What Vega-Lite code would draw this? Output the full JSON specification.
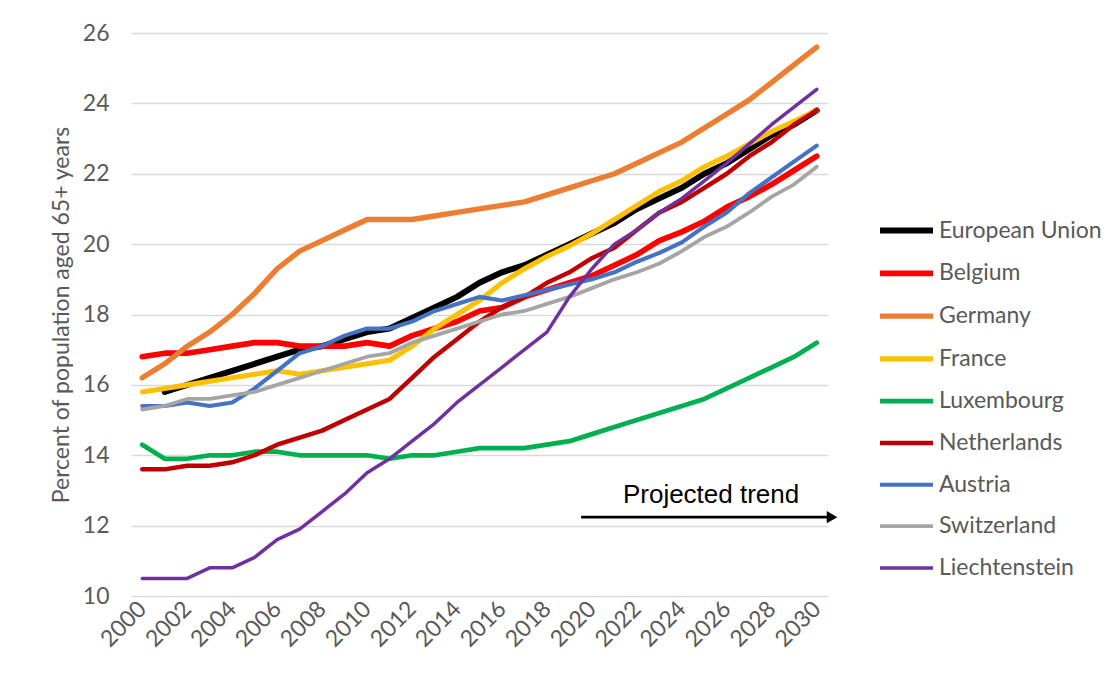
{
  "$schema": "https://vega.github.io/schema/vega-lite/v6.json",
  "width": 697,
  "height": 563,
  "autosize": {"type": "none"},
  "padding": {"left": 131, "top": 33, "right": 285, "bottom": 86},
  "background": "white",
  "config": {"font": "Lato", "view": {"stroke": null}},
  "datasets": {
    "series": [
      {"country":"European Union","year":2001,"pct":15.8},{"country":"European Union","year":2002,"pct":16.0},{"country":"European Union","year":2003,"pct":16.2},{"country":"European Union","year":2004,"pct":16.4},{"country":"European Union","year":2005,"pct":16.6},{"country":"European Union","year":2006,"pct":16.8},{"country":"European Union","year":2007,"pct":17.0},{"country":"European Union","year":2008,"pct":17.1},{"country":"European Union","year":2009,"pct":17.3},{"country":"European Union","year":2010,"pct":17.5},{"country":"European Union","year":2011,"pct":17.6},{"country":"European Union","year":2012,"pct":17.9},{"country":"European Union","year":2013,"pct":18.2},{"country":"European Union","year":2014,"pct":18.5},{"country":"European Union","year":2015,"pct":18.9},{"country":"European Union","year":2016,"pct":19.2},{"country":"European Union","year":2017,"pct":19.4},{"country":"European Union","year":2018,"pct":19.7},{"country":"European Union","year":2019,"pct":20.0},{"country":"European Union","year":2020,"pct":20.3},{"country":"European Union","year":2021,"pct":20.6},{"country":"European Union","year":2022,"pct":21.0},{"country":"European Union","year":2023,"pct":21.3},{"country":"European Union","year":2024,"pct":21.6},{"country":"European Union","year":2025,"pct":22.0},{"country":"European Union","year":2026,"pct":22.3},{"country":"European Union","year":2027,"pct":22.7},{"country":"European Union","year":2028,"pct":23.1},{"country":"European Union","year":2029,"pct":23.4},{"country":"European Union","year":2030,"pct":23.8},
      {"country":"Belgium","year":2000,"pct":16.8},{"country":"Belgium","year":2001,"pct":16.9},{"country":"Belgium","year":2002,"pct":16.9},{"country":"Belgium","year":2003,"pct":17.0},{"country":"Belgium","year":2004,"pct":17.1},{"country":"Belgium","year":2005,"pct":17.2},{"country":"Belgium","year":2006,"pct":17.2},{"country":"Belgium","year":2007,"pct":17.1},{"country":"Belgium","year":2008,"pct":17.1},{"country":"Belgium","year":2009,"pct":17.1},{"country":"Belgium","year":2010,"pct":17.2},{"country":"Belgium","year":2011,"pct":17.1},{"country":"Belgium","year":2012,"pct":17.4},{"country":"Belgium","year":2013,"pct":17.6},{"country":"Belgium","year":2014,"pct":17.8},{"country":"Belgium","year":2015,"pct":18.1},{"country":"Belgium","year":2016,"pct":18.2},{"country":"Belgium","year":2017,"pct":18.5},{"country":"Belgium","year":2018,"pct":18.7},{"country":"Belgium","year":2019,"pct":18.9},{"country":"Belgium","year":2020,"pct":19.1},{"country":"Belgium","year":2021,"pct":19.4},{"country":"Belgium","year":2022,"pct":19.7},{"country":"Belgium","year":2023,"pct":20.1},{"country":"Belgium","year":2024,"pct":20.35},{"country":"Belgium","year":2025,"pct":20.65},{"country":"Belgium","year":2026,"pct":21.05},{"country":"Belgium","year":2027,"pct":21.35},{"country":"Belgium","year":2028,"pct":21.7},{"country":"Belgium","year":2029,"pct":22.1},{"country":"Belgium","year":2030,"pct":22.5},
      {"country":"Germany","year":2000,"pct":16.2},{"country":"Germany","year":2001,"pct":16.6},{"country":"Germany","year":2002,"pct":17.1},{"country":"Germany","year":2003,"pct":17.5},{"country":"Germany","year":2004,"pct":18.0},{"country":"Germany","year":2005,"pct":18.6},{"country":"Germany","year":2006,"pct":19.3},{"country":"Germany","year":2007,"pct":19.8},{"country":"Germany","year":2008,"pct":20.1},{"country":"Germany","year":2009,"pct":20.4},{"country":"Germany","year":2010,"pct":20.7},{"country":"Germany","year":2011,"pct":20.7},{"country":"Germany","year":2012,"pct":20.7},{"country":"Germany","year":2013,"pct":20.8},{"country":"Germany","year":2014,"pct":20.9},{"country":"Germany","year":2015,"pct":21.0},{"country":"Germany","year":2016,"pct":21.1},{"country":"Germany","year":2017,"pct":21.2},{"country":"Germany","year":2018,"pct":21.4},{"country":"Germany","year":2019,"pct":21.6},{"country":"Germany","year":2020,"pct":21.8},{"country":"Germany","year":2021,"pct":22.0},{"country":"Germany","year":2022,"pct":22.3},{"country":"Germany","year":2023,"pct":22.6},{"country":"Germany","year":2024,"pct":22.9},{"country":"Germany","year":2025,"pct":23.3},{"country":"Germany","year":2026,"pct":23.7},{"country":"Germany","year":2027,"pct":24.1},{"country":"Germany","year":2028,"pct":24.6},{"country":"Germany","year":2029,"pct":25.1},{"country":"Germany","year":2030,"pct":25.6},
      {"country":"France","year":2000,"pct":15.8},{"country":"France","year":2001,"pct":15.9},{"country":"France","year":2002,"pct":16.0},{"country":"France","year":2003,"pct":16.1},{"country":"France","year":2004,"pct":16.2},{"country":"France","year":2005,"pct":16.3},{"country":"France","year":2006,"pct":16.4},{"country":"France","year":2007,"pct":16.3},{"country":"France","year":2008,"pct":16.4},{"country":"France","year":2009,"pct":16.5},{"country":"France","year":2010,"pct":16.6},{"country":"France","year":2011,"pct":16.7},{"country":"France","year":2012,"pct":17.1},{"country":"France","year":2013,"pct":17.6},{"country":"France","year":2014,"pct":18.0},{"country":"France","year":2015,"pct":18.4},{"country":"France","year":2016,"pct":18.9},{"country":"France","year":2017,"pct":19.3},{"country":"France","year":2018,"pct":19.65},{"country":"France","year":2019,"pct":19.95},{"country":"France","year":2020,"pct":20.3},{"country":"France","year":2021,"pct":20.7},{"country":"France","year":2022,"pct":21.1},{"country":"France","year":2023,"pct":21.5},{"country":"France","year":2024,"pct":21.8},{"country":"France","year":2025,"pct":22.2},{"country":"France","year":2026,"pct":22.5},{"country":"France","year":2027,"pct":22.85},{"country":"France","year":2028,"pct":23.2},{"country":"France","year":2029,"pct":23.5},{"country":"France","year":2030,"pct":23.8},
      {"country":"Luxembourg","year":2000,"pct":14.3},{"country":"Luxembourg","year":2001,"pct":13.9},{"country":"Luxembourg","year":2002,"pct":13.9},{"country":"Luxembourg","year":2003,"pct":14.0},{"country":"Luxembourg","year":2004,"pct":14.0},{"country":"Luxembourg","year":2005,"pct":14.1},{"country":"Luxembourg","year":2006,"pct":14.1},{"country":"Luxembourg","year":2007,"pct":14.0},{"country":"Luxembourg","year":2008,"pct":14.0},{"country":"Luxembourg","year":2009,"pct":14.0},{"country":"Luxembourg","year":2010,"pct":14.0},{"country":"Luxembourg","year":2011,"pct":13.9},{"country":"Luxembourg","year":2012,"pct":14.0},{"country":"Luxembourg","year":2013,"pct":14.0},{"country":"Luxembourg","year":2014,"pct":14.1},{"country":"Luxembourg","year":2015,"pct":14.2},{"country":"Luxembourg","year":2016,"pct":14.2},{"country":"Luxembourg","year":2017,"pct":14.2},{"country":"Luxembourg","year":2018,"pct":14.3},{"country":"Luxembourg","year":2019,"pct":14.4},{"country":"Luxembourg","year":2020,"pct":14.6},{"country":"Luxembourg","year":2021,"pct":14.8},{"country":"Luxembourg","year":2022,"pct":15.0},{"country":"Luxembourg","year":2023,"pct":15.2},{"country":"Luxembourg","year":2024,"pct":15.4},{"country":"Luxembourg","year":2025,"pct":15.6},{"country":"Luxembourg","year":2026,"pct":15.9},{"country":"Luxembourg","year":2027,"pct":16.2},{"country":"Luxembourg","year":2028,"pct":16.5},{"country":"Luxembourg","year":2029,"pct":16.8},{"country":"Luxembourg","year":2030,"pct":17.2},
      {"country":"Netherlands","year":2000,"pct":13.6},{"country":"Netherlands","year":2001,"pct":13.6},{"country":"Netherlands","year":2002,"pct":13.7},{"country":"Netherlands","year":2003,"pct":13.7},{"country":"Netherlands","year":2004,"pct":13.8},{"country":"Netherlands","year":2005,"pct":14.0},{"country":"Netherlands","year":2006,"pct":14.3},{"country":"Netherlands","year":2007,"pct":14.5},{"country":"Netherlands","year":2008,"pct":14.7},{"country":"Netherlands","year":2009,"pct":15.0},{"country":"Netherlands","year":2010,"pct":15.3},{"country":"Netherlands","year":2011,"pct":15.6},{"country":"Netherlands","year":2012,"pct":16.2},{"country":"Netherlands","year":2013,"pct":16.8},{"country":"Netherlands","year":2014,"pct":17.3},{"country":"Netherlands","year":2015,"pct":17.8},{"country":"Netherlands","year":2016,"pct":18.2},{"country":"Netherlands","year":2017,"pct":18.5},{"country":"Netherlands","year":2018,"pct":18.9},{"country":"Netherlands","year":2019,"pct":19.2},{"country":"Netherlands","year":2020,"pct":19.6},{"country":"Netherlands","year":2021,"pct":19.9},{"country":"Netherlands","year":2022,"pct":20.4},{"country":"Netherlands","year":2023,"pct":20.9},{"country":"Netherlands","year":2024,"pct":21.2},{"country":"Netherlands","year":2025,"pct":21.6},{"country":"Netherlands","year":2026,"pct":22.0},{"country":"Netherlands","year":2027,"pct":22.5},{"country":"Netherlands","year":2028,"pct":22.9},{"country":"Netherlands","year":2029,"pct":23.4},{"country":"Netherlands","year":2030,"pct":23.8},
      {"country":"Austria","year":2000,"pct":15.4},{"country":"Austria","year":2001,"pct":15.4},{"country":"Austria","year":2002,"pct":15.5},{"country":"Austria","year":2003,"pct":15.4},{"country":"Austria","year":2004,"pct":15.5},{"country":"Austria","year":2005,"pct":15.9},{"country":"Austria","year":2006,"pct":16.4},{"country":"Austria","year":2007,"pct":16.9},{"country":"Austria","year":2008,"pct":17.1},{"country":"Austria","year":2009,"pct":17.4},{"country":"Austria","year":2010,"pct":17.6},{"country":"Austria","year":2011,"pct":17.6},{"country":"Austria","year":2012,"pct":17.8},{"country":"Austria","year":2013,"pct":18.1},{"country":"Austria","year":2014,"pct":18.3},{"country":"Austria","year":2015,"pct":18.5},{"country":"Austria","year":2016,"pct":18.4},{"country":"Austria","year":2017,"pct":18.55},{"country":"Austria","year":2018,"pct":18.7},{"country":"Austria","year":2019,"pct":18.85},{"country":"Austria","year":2020,"pct":19.0},{"country":"Austria","year":2021,"pct":19.2},{"country":"Austria","year":2022,"pct":19.5},{"country":"Austria","year":2023,"pct":19.75},{"country":"Austria","year":2024,"pct":20.05},{"country":"Austria","year":2025,"pct":20.5},{"country":"Austria","year":2026,"pct":20.9},{"country":"Austria","year":2027,"pct":21.45},{"country":"Austria","year":2028,"pct":21.9},{"country":"Austria","year":2029,"pct":22.35},{"country":"Austria","year":2030,"pct":22.8},
      {"country":"Switzerland","year":2000,"pct":15.3},{"country":"Switzerland","year":2001,"pct":15.4},{"country":"Switzerland","year":2002,"pct":15.6},{"country":"Switzerland","year":2003,"pct":15.6},{"country":"Switzerland","year":2004,"pct":15.7},{"country":"Switzerland","year":2005,"pct":15.8},{"country":"Switzerland","year":2006,"pct":16.0},{"country":"Switzerland","year":2007,"pct":16.2},{"country":"Switzerland","year":2008,"pct":16.4},{"country":"Switzerland","year":2009,"pct":16.6},{"country":"Switzerland","year":2010,"pct":16.8},{"country":"Switzerland","year":2011,"pct":16.9},{"country":"Switzerland","year":2012,"pct":17.2},{"country":"Switzerland","year":2013,"pct":17.4},{"country":"Switzerland","year":2014,"pct":17.6},{"country":"Switzerland","year":2015,"pct":17.8},{"country":"Switzerland","year":2016,"pct":18.0},{"country":"Switzerland","year":2017,"pct":18.1},{"country":"Switzerland","year":2018,"pct":18.3},{"country":"Switzerland","year":2019,"pct":18.5},{"country":"Switzerland","year":2020,"pct":18.75},{"country":"Switzerland","year":2021,"pct":19.0},{"country":"Switzerland","year":2022,"pct":19.2},{"country":"Switzerland","year":2023,"pct":19.45},{"country":"Switzerland","year":2024,"pct":19.8},{"country":"Switzerland","year":2025,"pct":20.2},{"country":"Switzerland","year":2026,"pct":20.5},{"country":"Switzerland","year":2027,"pct":20.9},{"country":"Switzerland","year":2028,"pct":21.35},{"country":"Switzerland","year":2029,"pct":21.7},{"country":"Switzerland","year":2030,"pct":22.2},
      {"country":"Liechtenstein","year":2000,"pct":10.5},{"country":"Liechtenstein","year":2001,"pct":10.5},{"country":"Liechtenstein","year":2002,"pct":10.5},{"country":"Liechtenstein","year":2003,"pct":10.8},{"country":"Liechtenstein","year":2004,"pct":10.8},{"country":"Liechtenstein","year":2005,"pct":11.1},{"country":"Liechtenstein","year":2006,"pct":11.6},{"country":"Liechtenstein","year":2007,"pct":11.9},{"country":"Liechtenstein","year":2008,"pct":12.4},{"country":"Liechtenstein","year":2009,"pct":12.9},{"country":"Liechtenstein","year":2010,"pct":13.5},{"country":"Liechtenstein","year":2011,"pct":13.9},{"country":"Liechtenstein","year":2012,"pct":14.4},{"country":"Liechtenstein","year":2013,"pct":14.9},{"country":"Liechtenstein","year":2014,"pct":15.5},{"country":"Liechtenstein","year":2015,"pct":16.0},{"country":"Liechtenstein","year":2016,"pct":16.5},{"country":"Liechtenstein","year":2017,"pct":17.0},{"country":"Liechtenstein","year":2018,"pct":17.5},{"country":"Liechtenstein","year":2019,"pct":18.5},{"country":"Liechtenstein","year":2020,"pct":19.3},{"country":"Liechtenstein","year":2021,"pct":20.0},{"country":"Liechtenstein","year":2022,"pct":20.4},{"country":"Liechtenstein","year":2023,"pct":20.9},{"country":"Liechtenstein","year":2024,"pct":21.3},{"country":"Liechtenstein","year":2025,"pct":21.8},{"country":"Liechtenstein","year":2026,"pct":22.3},{"country":"Liechtenstein","year":2027,"pct":22.85},{"country":"Liechtenstein","year":2028,"pct":23.4},{"country":"Liechtenstein","year":2029,"pct":23.9},{"country":"Liechtenstein","year":2030,"pct":24.4}
    ],
    "note": [
      {"label": "Projected trend", "start": 2019.52, "end": 2030.68, "level": 12.24, "tx": 2025.3, "ty": 12.64}
    ]
  },
  "layer": [
    {
      "data": {"name": "series"},
      "mark": {"type": "line", "strokeJoin": "round", "strokeCap": "round"},
      "encoding": {
        "x": {
          "field": "year", "type": "quantitative", "title": null,
          "scale": {"domain": [1999.5, 2030.5], "nice": false, "zero": false},
          "axis": {"values": [2000,2002,2004,2006,2008,2010,2012,2014,2016,2018,2020,2022,2024,2026,2028,2030], "format": "d", "labelAngle": -45, "labelAlign": "right", "labelBaseline": "middle", "labelFont": "Lato", "labelFontSize": 23, "labelColor": "#595959", "labelPadding": 9, "labelOverlap": false, "grid": false, "domain": false, "ticks": false}
        },
        "y": {
          "field": "pct", "type": "quantitative", "title": "Percent of population aged 65+ years",
          "scale": {"domain": [10, 26], "nice": false, "zero": false},
          "axis": {"title": "Percent of population aged 65+ years", "values": [10,12,14,16,18,20,22,24,26], "labelFont": "Lato", "labelFontSize": 23, "labelColor": "#595959", "labelPadding": 22, "domain": false, "ticks": false, "grid": true, "gridColor": "#d9d9d9", "gridWidth": 1.3, "titleFont": "Lato", "titleFontSize": 23, "titleFontWeight": "normal", "titleColor": "#595959", "titlePadding": 9}
        },
        "color": {
          "field": "country", "type": "nominal",
          "scale": {"domain": ["European Union","Belgium","Germany","France","Luxembourg","Netherlands","Austria","Switzerland","Liechtenstein"], "range": ["#000000","#FF0000","#ED7D31","#FFC000","#00B050","#C00000","#4472C4","#A5A5A5","#7030A0"]},
          "legend": {"title": null, "orient": "none", "legendX": 746, "legendY": 168, "symbolType": "stroke", "symbolSize": 2809, "labelFont": "Lato", "labelFontSize": 23, "labelColor": "#595959", "labelOffset": 3, "labelLimit": 400, "rowPadding": 0.8}
        },
        "strokeWidth": {
          "field": "country", "type": "nominal",
          "scale": {"domain": ["European Union","Belgium","Germany","France","Luxembourg","Netherlands","Austria","Switzerland","Liechtenstein"], "range": [6,3.5,3.5,3.5,3.5,3.5,3.5,3.5,3.5]},
          "legend": {"title": null, "orient": "none", "legendX": 746, "legendY": 168, "symbolType": "stroke", "symbolSize": 2809, "labelFont": "Lato", "labelFontSize": 23, "labelColor": "#595959", "labelOffset": 3, "labelLimit": 400, "rowPadding": 0.8}
        }
      }
    },
    {
      "data": {"name": "note"},
      "mark": {"type": "rule", "color": "black", "strokeWidth": 2.7},
      "encoding": {
        "x": {"field": "start", "type": "quantitative", "title": null},
        "x2": {"field": "end"},
        "y": {"field": "level", "type": "quantitative", "title": "Percent of population aged 65+ years"}
      }
    },
    {
      "data": {"name": "note"},
      "mark": {"type": "point", "shape": "triangle-right", "filled": true, "color": "black", "opacity": 1, "size": 150},
      "encoding": {
        "x": {"field": "end", "type": "quantitative", "title": null},
        "y": {"field": "level", "type": "quantitative", "title": "Percent of population aged 65+ years"}
      }
    },
    {
      "data": {"name": "note"},
      "mark": {"type": "text", "font": "Liberation Sans", "fontSize": 26, "color": "black", "align": "center", "baseline": "alphabetic"},
      "encoding": {
        "x": {"field": "tx", "type": "quantitative", "title": null},
        "y": {"field": "ty", "type": "quantitative", "title": "Percent of population aged 65+ years"},
        "text": {"field": "label"}
      }
    }
  ]
}
